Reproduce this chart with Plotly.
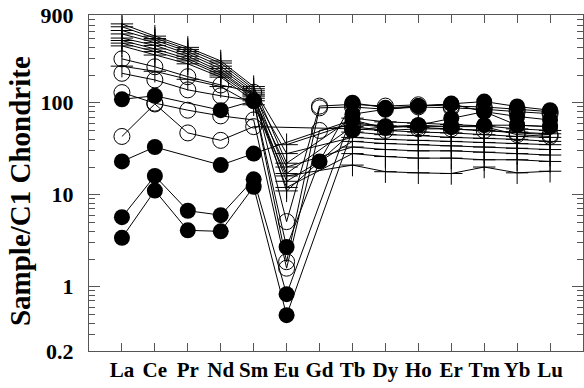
import plotly.graph_objects as go

elements = ["La", "Ce", "Pr", "Nd", "Sm", "Eu", "Gd", "Tb", "Dy", "Ho", "Er", "Tm", "Yb", "Lu"]
N = None

# cross (+) samples
cross_1 = [720, 530, 400, 285, 150, 22, N, 68, 62, 60, 58, 56, 52, 50]
cross_2 = [670, 500, 380, 270, 142, 35, N, 60, 56, 54, 52, 50, 48, 46]
cross_3 = [610, 480, 360, 250, 135, 17, N, 55, 50, 48, 47, 45, 43, 42]
cross_4 = [560, 450, 340, 235, 128, 11, N, 48, 45, 44, 42, 41, 40, 38]
cross_5 = [505, 420, 320, 220, 122, 28, N, 42, 40, 39, 38, 37, 36, 35]
cross_6 = [475, 385, 300, 210, 118, 14, N, 38, 36, 35, 34, 33, 32, 31]
cross_7 = [445, 360, 285, 200, 112, 20, N, 33, 31, 30, 30, 29, 28, 27]
cross_8 = [415, 330, 265, 190, 105, 12, N, 28, 26, 25, 25, 24, 24, 23]
cross_9 = [250, 220, 180, 150, 95, 16, N, 21, 17.8, 17.3, 17, 20, 17.3, 18]

# open-circle samples
open_1 = [300, 246, 192, 156, 130, 5.1, 92, 96, 92, 95, 92, 90, 85, 80]
open_2 = [209, 177, 138, 119, 105, 1.87, 88, 90, 85, 90, 88, 85, 80, 76]
open_3 = [129, 99, 83, 72, 65, 1.59, 50, 58, 55, 55, 55, 55, 45, 43]
open_4 = [43, 97, 47, 39, 55, N, N, 52, 50, 52, 52, 50, 47, 45]

# filled-circle samples
filled_1 = [109, 119, N, 83, 105, 2.7, 23, 100, 88, 92, 98, 103, 91, 83]
filled_2 = [23, 33, N, 21, 28, N, N, 65, 53, 57, 68, 80, 71, 65]
filled_3 = [5.7, 16, 6.7, 6.0, 14.7, 0.83, N, 75, 85, 92, 97, 80, 57, 55]
filled_4 = [3.4, 11.1, 4.1, 4.0, 12.2, 0.49, N, 50, 55, 57, 55, 57, 57, 55]

y_tickvals = [0.2, 1, 10, 100, 900]
y_ticktext = ["0.2", "1", "10", "100", "900"]
y_minor = [0.3, 0.4, 0.5, 0.6, 0.7, 0.8, 0.9,
           2, 3, 4, 5, 6, 7, 8, 9,
           20, 30, 40, 50, 60, 70, 80, 90,
           200, 300, 400, 500, 600, 700, 800]

xpos = list(range(len(elements)))
fig = go.Figure()

line_style = dict(color="black", width=1)
for s in [cross_1, cross_2, cross_3, cross_4, cross_5, cross_6, cross_7, cross_8, cross_9]:
    fig.add_trace(go.Scatter(x=xpos, y=s, mode="lines+markers", connectgaps=True,
                             line=line_style,
                             marker=dict(symbol="cross-thin", size=16, color="black",
                                         line=dict(width=1, color="black"))))
for s in [open_1, open_2, open_3, open_4]:
    fig.add_trace(go.Scatter(x=xpos, y=s, mode="lines+markers", connectgaps=True,
                             line=line_style,
                             marker=dict(symbol="circle-open", size=16, color="black",
                                         line=dict(width=1, color="black"))))
for s in [filled_1, filled_2, filled_3, filled_4]:
    fig.add_trace(go.Scatter(x=xpos, y=s, mode="lines+markers", connectgaps=True,
                             line=line_style,
                             marker=dict(symbol="circle", size=16, color="black",
                                         line=dict(width=0))))

font_family = "Liberation Serif, Times New Roman, serif"
fig.update_layout(
    width=584, height=388,
    margin=dict(l=89, r=1, t=15, b=37),
    paper_bgcolor="white", plot_bgcolor="white",
    showlegend=False,
    xaxis=dict(range=[-1, 14], tickmode="array", tickvals=xpos, ticktext=elements,
               ticks="inside", ticklen=8, tickcolor="#555", showgrid=False, zeroline=False,
               showline=True, linecolor="#555", linewidth=1, mirror="ticks",
               automargin=False,
               tickfont=dict(family=font_family, size=21, color="black", weight="bold")),
    yaxis=dict(type="log", range=[-0.699, 2.954], tickmode="array",
               tickvals=y_tickvals, ticktext=y_ticktext,
               ticks="inside", ticklen=11, tickcolor="#555", showgrid=False, zeroline=False,
               showline=True, linecolor="#555", linewidth=1, mirror="ticks",
               ticklabelstandoff=10, automargin=False,
               minor=dict(tickmode="array", tickvals=y_minor, ticks="inside", ticklen=6,
                          tickcolor="#555", showgrid=False),
               tickfont=dict(family=font_family, size=22, color="black", weight="bold")),
)
fig.add_annotation(text="Sample/C1 Chondrite", textangle=-90, showarrow=False,
                   xref="paper", yref="paper", x=(20 - 89) / 494, y=0.476,
                   xanchor="center", yanchor="middle",
                   font=dict(family=font_family, size=29, color="black", weight="bold"))

fig.write_html("out.html", config={"displayModeBar": False},
               post_script="document.body.style.margin='0';document.body.style.overflow='hidden';")
